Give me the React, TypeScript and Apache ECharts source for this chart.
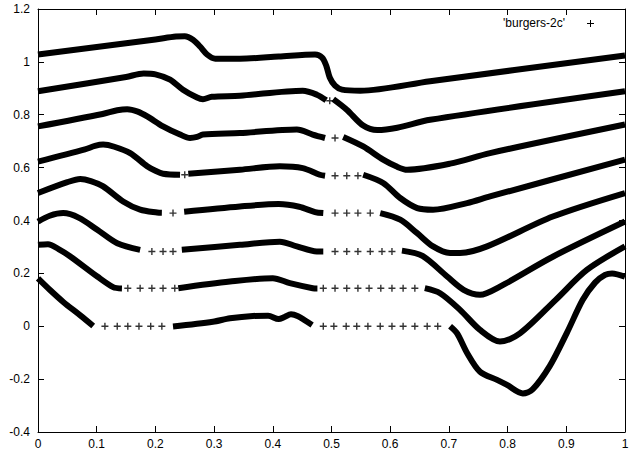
import React, { useEffect, useRef } from "react";
import * as echarts from "echarts";

const legendLabel = "'burgers-2c'";

// Each curve: dense segments (continuous bands of markers) and sparse '+' points
const curve1Dense: number[][][] = [
  [[0, 1.028], [0.2, 1.085], [0.235, 1.096], [0.25, 1.097], [0.264, 1.084], [0.276, 1.058], [0.288, 1.028], [0.302, 1.012], [0.344, 1.012], [0.41, 1.02], [0.472, 1.028], [0.484, 1.016], [0.491, 0.986], [0.497, 0.941], [0.506, 0.91], [0.518, 0.895], [0.549, 0.891], [0.668, 0.927], [1.0, 1.024]],
];
const curve1Sparse: number[][] = [];

const curve2Dense: number[][][] = [
  [[0, 0.889], [0.15, 0.943], [0.18, 0.956], [0.2, 0.953], [0.225, 0.933], [0.247, 0.895], [0.271, 0.865], [0.281, 0.859], [0.296, 0.868], [0.344, 0.872], [0.451, 0.891], [0.475, 0.876], [0.491, 0.855]],
  [[0.503, 0.859], [0.526, 0.819], [0.554, 0.759], [0.578, 0.742], [0.612, 0.751], [0.668, 0.781], [1.0, 0.889]],
];
const curve2Sparse: number[][] = [[0.497, 0.853]];

const curve3Dense: number[][][] = [
  [[0, 0.756], [0.11, 0.803], [0.135, 0.817], [0.152, 0.821], [0.17, 0.812], [0.186, 0.794], [0.213, 0.756], [0.242, 0.725], [0.259, 0.712], [0.271, 0.716], [0.281, 0.725], [0.344, 0.731], [0.441, 0.744], [0.468, 0.725], [0.489, 0.712]],
  [[0.52, 0.716], [0.554, 0.68], [0.588, 0.63], [0.612, 0.603], [0.629, 0.592], [0.702, 0.615], [0.77, 0.655], [1.0, 0.763]],
];
const curve3Sparse: number[][] = [[0.506, 0.712]];

const curve4Dense: number[][][] = [
  [[0, 0.623], [0.08, 0.669], [0.097, 0.682], [0.111, 0.687], [0.13, 0.679], [0.157, 0.655], [0.186, 0.605], [0.2, 0.588], [0.213, 0.577], [0.242, 0.573]],
  [[0.256, 0.577], [0.344, 0.592], [0.412, 0.605], [0.451, 0.598], [0.48, 0.573], [0.489, 0.569]],
  [[0.554, 0.573], [0.588, 0.542], [0.617, 0.485], [0.646, 0.447], [0.673, 0.441], [0.731, 0.466], [0.77, 0.491], [1.0, 0.63]],
];
const curve4Sparse: number[][] = [[0.25, 0.573], [0.506, 0.569], [0.526, 0.569], [0.545, 0.569]];

const curve5Dense: number[][][] = [
  [[0, 0.504], [0.05, 0.545], [0.072, 0.557], [0.09, 0.549], [0.111, 0.529], [0.145, 0.472], [0.174, 0.441], [0.203, 0.43], [0.211, 0.429]],
  [[0.249, 0.433], [0.344, 0.453], [0.41, 0.462], [0.445, 0.452], [0.472, 0.432], [0.486, 0.428]],
  [[0.583, 0.428], [0.617, 0.403], [0.646, 0.352], [0.673, 0.302], [0.702, 0.277], [0.719, 0.277], [0.765, 0.302], [0.877, 0.415], [1.0, 0.504]],
];
const curve5Sparse: number[][] = [[0.23, 0.428], [0.506, 0.428], [0.526, 0.428], [0.545, 0.428], [0.566, 0.428]];

const curve6Dense: number[][][] = [
  [[0, 0.396], [0.02, 0.418], [0.043, 0.428], [0.07, 0.41], [0.101, 0.365], [0.135, 0.314], [0.174, 0.289]],
  [[0.245, 0.289], [0.344, 0.308], [0.412, 0.32], [0.441, 0.302], [0.475, 0.283], [0.486, 0.283]],
  [[0.62, 0.286], [0.655, 0.266], [0.697, 0.188], [0.725, 0.138], [0.753, 0.119], [0.787, 0.15], [0.877, 0.263], [1.0, 0.396]],
];
const curve6Sparse: number[][] = [[0.194, 0.283], [0.213, 0.283], [0.23, 0.283], [0.506, 0.283], [0.526, 0.283], [0.545, 0.283], [0.566, 0.283], [0.586, 0.283], [0.603, 0.283]];

const curve7Dense: number[][][] = [
  [[0, 0.308], [0.017, 0.31], [0.035, 0.292], [0.055, 0.264], [0.101, 0.188], [0.128, 0.148], [0.143, 0.143]],
  [[0.239, 0.144], [0.327, 0.169], [0.4, 0.182], [0.429, 0.163], [0.468, 0.144], [0.476, 0.143]],
  [[0.659, 0.144], [0.685, 0.125], [0.719, 0.062], [0.753, -0.014], [0.787, -0.058], [0.821, -0.027], [0.882, 0.1], [0.935, 0.213], [1.0, 0.302]],
];
const curve7Sparse: number[][] = [[0.153, 0.144], [0.174, 0.144], [0.194, 0.144], [0.213, 0.144], [0.233, 0.144], [0.486, 0.144], [0.506, 0.144], [0.526, 0.144], [0.545, 0.144], [0.564, 0.144], [0.584, 0.144], [0.603, 0.144], [0.622, 0.144], [0.642, 0.144]];

const curve8Dense: number[][][] = [
  [[0, 0.181], [0.02, 0.138], [0.043, 0.092], [0.072, 0.041], [0.094, 0.001]],
  [[0.23, -0.001], [0.298, 0.017], [0.327, 0.03], [0.366, 0.039], [0.392, 0.04], [0.41, 0.027], [0.42, 0.035], [0.431, 0.045], [0.443, 0.038], [0.455, 0.022], [0.467, 0.005]],
  [[0.702, 0.0], [0.714, -0.027], [0.731, -0.101], [0.753, -0.172], [0.782, -0.203], [0.799, -0.222], [0.826, -0.254], [0.843, -0.238], [0.872, -0.15], [0.901, -0.025], [0.928, 0.1], [0.949, 0.165], [0.966, 0.194], [0.978, 0.2], [1.0, 0.187]],
];
const curve8Sparse: number[][] = [[0.114, 0], [0.135, 0], [0.153, 0], [0.172, 0], [0.192, 0], [0.211, 0], [0.486, 0], [0.504, 0], [0.525, 0], [0.543, 0], [0.562, 0], [0.583, 0], [0.603, 0], [0.622, 0], [0.642, 0], [0.663, 0], [0.681, 0]];

const allDense = [curve1Dense, curve2Dense, curve3Dense, curve4Dense, curve5Dense, curve6Dense, curve7Dense, curve8Dense];
const allSparse = [curve1Sparse, curve2Sparse, curve3Sparse, curve4Sparse, curve5Sparse, curve6Sparse, curve7Sparse, curve8Sparse];

const PLUS = "path://M2.8,0H4.2V2.8H7V4.2H4.2V7H2.8V4.2H0V2.8H2.8Z";
const FONT = "'Liberation Sans', Arial, Helvetica, sans-serif";

export default function App() {
  const ref = useRef<HTMLDivElement>(null);
  useEffect(() => {
    if (!ref.current) return;
    const chart = echarts.init(ref.current, undefined, { renderer: "svg" });
    const series: any[] = [];
    allDense.forEach((segs) => {
      segs.forEach((seg) => {
        series.push({
          type: "line",
          name: legendLabel,
          data: seg,
          smooth: 0.3,
          showSymbol: false,
          symbol: "none",
          lineStyle: { width: 6, color: "#000", cap: "butt", join: "round" },
          silent: true,
        });
      });
    });
    allSparse.forEach((pts) => {
      if (pts.length) {
        series.push({
          type: "scatter",
          name: legendLabel,
          data: pts,
          symbol: PLUS,
          symbolSize: 7,
          itemStyle: { color: "#000" },
          silent: true,
        });
      }
    });
    const axisCommon = {
      axisLine: { show: true, onZero: false, lineStyle: { color: "#000", width: 1 } },
      axisTick: { show: true, inside: true, length: 6, lineStyle: { color: "#000", width: 1 } },
      splitLine: { show: false },
    };
    const labelStyle = { color: "#000", fontSize: 12, fontFamily: FONT, lineHeight: 12 };
    chart.setOption({
      animation: false,
      backgroundColor: "#fff",
      grid: { left: 38, right: 4, top: 9, bottom: 18, outerBoundsMode: "none" },
      xAxis: [
        { type: "value", min: 0, max: 1, interval: 0.1, position: "bottom", ...axisCommon, axisLabel: { ...labelStyle, margin: 6 } },
        { type: "value", min: 0, max: 1, interval: 0.1, position: "top", ...axisCommon, axisLabel: { show: false } },
      ],
      yAxis: [
        { type: "value", min: -0.4, max: 1.2, interval: 0.2, position: "left", ...axisCommon, axisLabel: { ...labelStyle, margin: 8 } },
        { type: "value", min: -0.4, max: 1.2, interval: 0.2, position: "right", ...axisCommon, axisLabel: { show: false } },
      ],
      graphic: [
        { type: "text", x: 565, y: 23, style: { text: legendLabel, fill: "#000", fontSize: 12, fontFamily: FONT, textAlign: "right", textVerticalAlign: "middle" } },
        { type: "line", shape: { x1: 587, y1: 23.5, x2: 594, y2: 23.5 }, style: { stroke: "#000", lineWidth: 1 } },
        { type: "line", shape: { x1: 590.5, y1: 20, x2: 590.5, y2: 27 }, style: { stroke: "#000", lineWidth: 1 } },
      ],
      series,
    });
    return () => chart.dispose();
  }, []);
  return <div ref={ref} style={{ position: "fixed", left: 0, top: 0, width: 629, height: 450 }} />;
}
